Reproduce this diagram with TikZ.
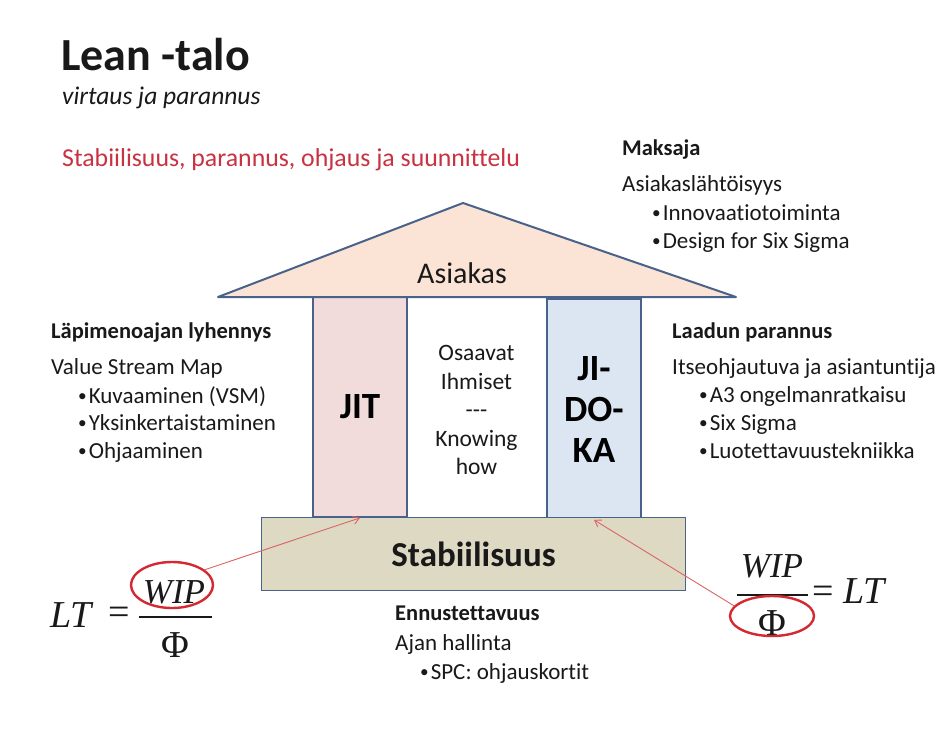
\documentclass[tikz,border=0pt]{standalone}
\usepackage{fontspec}
\setmainfont{Carlito}[Ligatures={NoCommon}]
\newfontfamily\tnr{Liberation Serif}
\usetikzlibrary{shapes.geometric,arrows.meta}
\definecolor{outl}{RGB}{72,98,140}
\definecolor{rooffill}{RGB}{251,228,213}
\definecolor{jitfill}{RGB}{242,220,219}
\definecolor{jidfill}{RGB}{220,230,242}
\definecolor{basefill}{RGB}{221,217,195}
\definecolor{redtxt}{RGB}{200,50,65}
\definecolor{circ}{RGB}{212,40,50}
\definecolor{arr}{RGB}{220,100,100}
\definecolor{txtc}{RGB}{25,25,25}
\newcommand{\blt}{\raisebox{1.5pt}{\scalebox{0.75}{•}}\hspace{2pt}}
\tikzset{
  txt/.style={anchor=base west, inner sep=0pt, text=txtc, font=\fontsize{23}{27}\selectfont},
  hdr/.style={txt, font=\fontsize{22.5}{27}\selectfont\bfseries},
  pillar/.style={draw=outl, line width=1.8pt, rectangle, minimum width=94pt, minimum height=220pt, inner sep=0pt, font=\fontsize{37}{41}\selectfont\bfseries, align=center},
  ring/.style={draw=circ, line width=2.4pt, ellipse, inner sep=0pt},
  ptr/.style={draw=arr, line width=0.9pt, -{Straight Barb[length=6pt,width=8pt]}},
  mth/.style={inner sep=0pt, font=\fontsize{38}{40}\selectfont\tnr, text=txtc}
}
\begin{document}
\begin{tikzpicture}[x=1pt,y=-1pt]
\useasboundingbox[fill=white] (0,0) rectangle (950,736);

% titles
\node[txt, font=\fontsize{46}{50}\selectfont\bfseries] (title) at (61,70) {Lean -talo};
\node[txt, font=\fontsize{25.5}{30}\selectfont\itshape] (sub) at (62,104) {virtaus ja parannus};
\node[txt, text=redtxt, font=\fontsize{25.8}{30}\selectfont] (red) at (62,166) {Stabiilisuus, parannus, ohjaus ja suunnittelu};

% pillars
\node[pillar, fill=jitfill] (jit) at (360,407) {JIT};
\node[pillar, fill=white, draw=none, font=\fontsize{23.5}{28.5}\selectfont, minimum width=137pt, text=txtc] (mid) at (476.5,410) {Osaavat\\Ihmiset\\-{}-{}-\\Knowing\\how};
\node[pillar, fill=jidfill] (jidoka) at (594,409) {JI-\\DO-\\KA};

% roof
\filldraw[fill=rooffill, draw=outl, line width=2pt, line join=round] (218,297) -- (463,203) -- (736,297) -- cycle;
\node[inner sep=0pt, font=\fontsize{30}{34}\selectfont, text=txtc] (asiakas) at (462,273) {Asiakas};

% base
\node[draw=outl, fill=basefill, line width=1.8pt, minimum width=424pt, minimum height=73pt, inner sep=0pt, font=\fontsize{35}{38}\selectfont\bfseries, text=txtc] (base) at (473.5,554) {Stabiilisuus};

% right top text
\node[hdr] (maks) at (622,155) {Maksaja};
\node[txt] (m1) at (622,191) {Asiakaslähtöisyys};
\node[txt] (m2) at (652,220) {\blt Innovaatiotoiminta};
\node[txt] (m3) at (652,248) {\blt Design for Six Sigma};

% left text
\node[hdr] (lap) at (51,338) {Läpimenoajan lyhennys};
\node[txt] (l1) at (51,374) {Value Stream Map};
\node[txt] (l2) at (78,403) {\blt Kuvaaminen (VSM)};
\node[txt] (l3) at (78,430) {\blt Yksinkertaistaminen};
\node[txt] (l4) at (78,458) {\blt Ohjaaminen};

% right text
\node[hdr] (laa) at (672,338) {Laadun parannus};
\node[txt] (r1) at (672,374) {Itseohjautuva ja asiantuntija};
\node[txt] (r2) at (699,402) {\blt A3 ongelmanratkaisu};
\node[txt] (r3) at (699,430) {\blt Six Sigma};
\node[txt] (r4) at (699,458) {\blt Luotettavuustekniikka};

% bottom text
\node[hdr] (enn) at (395,620) {Ennustettavuus};
\node[txt] (b1) at (395,650) {Ajan hallinta};
\node[txt] (b2) at (420,679) {\blt SPC: ohjauskortit};

% left formula
\node[mth, anchor=base west] (lt1) at (50,627) {\itshape LT};
\node[mth] (eq1) at (119,616) {=};
\node[mth, anchor=base, font=\fontsize{35}{38}\selectfont\tnr] (wip1) at (174,603) {\itshape WIP};
\node[mth, anchor=base] (phi1) at (175,657) {Φ};
\coordinate (bar1a) at (139,617);
\coordinate (bar1b) at (212,617);
\draw[line width=1.3pt, txtc] (bar1a) -- (bar1b);
\node[ring, minimum width=82pt, minimum height=46pt] (ring1) at (172,585) {};

% right formula
\node[mth, anchor=base, font=\fontsize{35}{38}\selectfont\tnr] (wip2) at (772,577) {\itshape WIP};
\node[mth, anchor=base] (phi2) at (772,635) {Φ};
\coordinate (bar2a) at (737,595);
\coordinate (bar2b) at (808,595);
\draw[line width=1.3pt, txtc] (bar2a) -- (bar2b);
\node[mth, anchor=base west] (lt2) at (812,603) {= \itshape LT};
\node[ring, minimum width=84pt, minimum height=40pt] (ring2) at (772,616) {};

% pointers
\draw[ptr] (ring1.25) -- (jit.south);
\draw[ptr] (ring2.165) -- (jidoka.south);
\end{tikzpicture}
\end{document}
